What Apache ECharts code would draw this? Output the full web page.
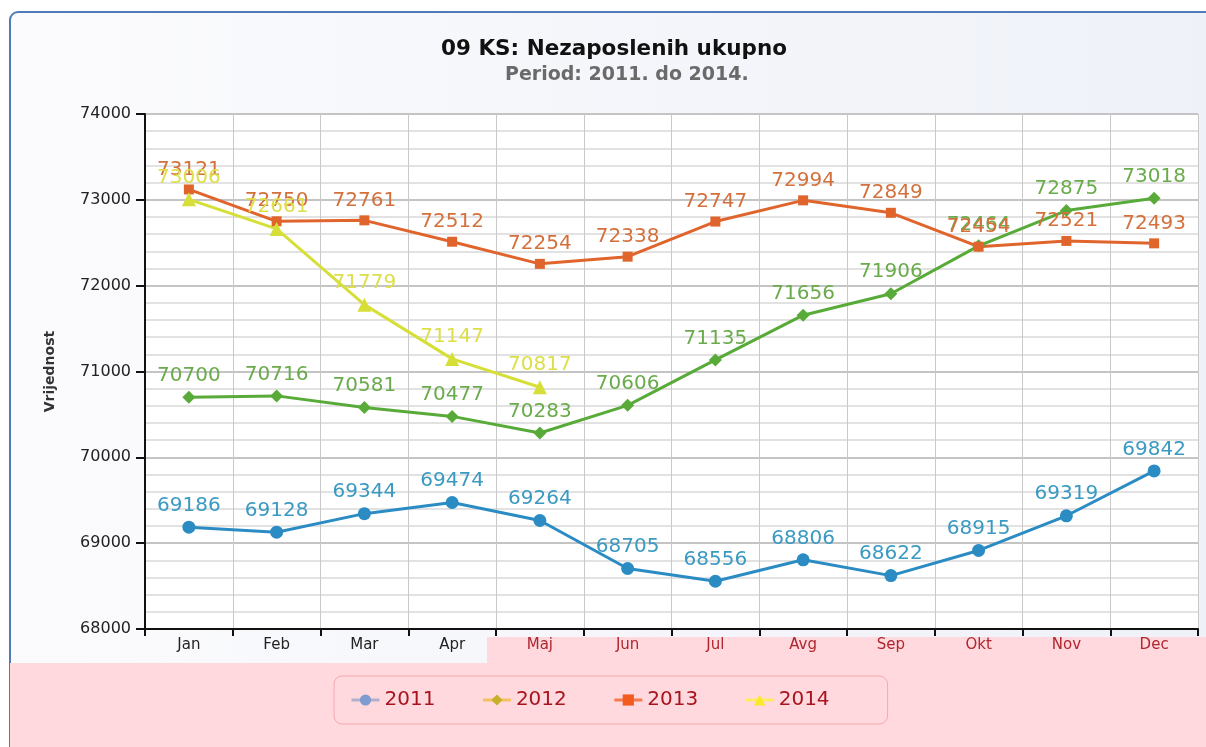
<!DOCTYPE html>
<html>
<head>
<meta charset="utf-8">
<script src="https://cdn.jsdelivr.net/npm/echarts@6/dist/echarts.min.js"></script>
<style>
  html, body { margin: 0; padding: 0; background: #fff; }
  #main { width: 1206px; height: 747px; }
</style>
</head>
<body>
<div id="main"></div>
<script type="text/javascript">
  // 09 KS: Nezaposlenih ukupno
  var months = ['Jan', 'Feb', 'Mar', 'Apr', 'Maj', 'Jun', 'Jul', 'Avg', 'Sep', 'Okt', 'Nov', 'Dec'];
  var years = ['2011', '2012', '2013', '2014'];
  var data2011 = [69186, 69128, 69344, 69474, 69264, 68705, 68556, 68806, 68622, 68915, 69319, 69842];
  var data2012 = [70700, 70716, 70581, 70477, 70283, 70606, 71135, 71656, 71906, 72464, 72875, 73018];
  var data2013 = [73121, 72750, 72761, 72512, 72254, 72338, 72747, 72994, 72849, 72454, 72521, 72493];
  var data2014 = [73006, 72661, 71779, 71147, 70817];

  var myChart = echarts.init(document.getElementById('main'));

  var font = 'DejaVu Sans';

  function lineSeries(name, data, color, labelColor, symbol, size) {
    return {
      name: name,
      type: 'line',
      data: data,
      symbol: symbol,
      symbolSize: size,
      lineStyle: { color: color, width: 3 },
      itemStyle: { color: color },
      label: {
        show: true,
        position: 'top',
        distance: 5,
        color: labelColor,
        fontFamily: font,
        fontSize: 20
      },
      z: 3
    };
  }

  var option = {
    animation: false,
    backgroundColor: '#fff',
    graphic: [
      {
        type: 'rect',
        z: -10,
        shape: { x: 10, y: 12, width: 1220, height: 760, r: 8 },
        style: {
          fill: new echarts.graphic.LinearGradient(0, 0, 1, 0, [
            { offset: 0, color: '#fbfbfd' },
            { offset: 1, color: '#eef1f8' }
          ]),
          stroke: '#4f7cb8',
          lineWidth: 2
        }
      },
      {
        type: 'rect',
        z: -9,
        shape: { x: 10, y: 663, width: 1200, height: 90 },
        style: { fill: '#ffd9de' }
      },
      {
        type: 'rect',
        z: -9,
        shape: { x: 487, y: 637, width: 720, height: 27 },
        style: { fill: '#ffd9de' }
      }
    ],
    title: [
      {
        text: '09 KS: Nezaposlenih ukupno',
        left: 436,
        top: 33,
        textStyle: { fontFamily: font, fontSize: 21.5, fontWeight: 'bold', color: '#111' }
      },
      {
        text: 'Period: 2011. do 2014.',
        left: 500,
        top: 61,
        textStyle: { fontFamily: font, fontSize: 19, fontWeight: 'bold', color: '#6a6a6a' }
      }
    ],
    legend: {
      data: [
        { name: '2011', itemStyle: { color: '#7f9bd2' }, lineStyle: { color: '#b0b0c8', width: 3 } },
        { name: '2012', itemStyle: { color: '#c6b02c' }, lineStyle: { color: '#f4c060', width: 3 } },
        { name: '2013', itemStyle: { color: '#f25a1e' }, lineStyle: { color: '#f47a50', width: 3 } },
        { name: '2014', itemStyle: { color: '#fae82a' }, lineStyle: { color: '#fcec60', width: 3 } }
      ],
      left: 334,
      top: 676,
      padding: [14, 58, 14, 16],
      itemGap: 46,
      itemWidth: 28,
      itemHeight: 14,
      borderColor: '#f6a8b0',
      borderWidth: 1,
      borderRadius: 8,
      textStyle: { color: '#a8141e', fontFamily: font, fontSize: 20 }
    },
    grid: {
      left: 145,
      right: 8,
      top: 114,
      bottom: 118,
      show: true,
      backgroundColor: '#fff',
      borderWidth: 0
    },
    xAxis: {
      type: 'category',
      data: months,
      boundaryGap: true,
      axisLine: { lineStyle: { color: '#111', width: 2 } },
      axisTick: { show: true, length: 7, lineStyle: { color: '#111', width: 2 } },
      axisLabel: {
        fontFamily: font,
        fontSize: 15,
        margin: 9,
        color: function (value, index) {
          return index < 4 ? '#222' : '#b0252e';
        }
      },
      splitLine: { show: true, lineStyle: { color: '#c9c9c9', width: 1 } }
    },
    yAxis: {
      type: 'value',
      min: 68000,
      max: 74000,
      interval: 1000,
      name: 'Vrijednost',
      nameLocation: 'middle',
      nameGap: 88,
      nameTextStyle: { fontFamily: font, fontSize: 14, fontWeight: 'bold', color: '#333' },
      axisLine: { show: true, lineStyle: { color: '#111', width: 2 } },
      axisTick: { show: true, length: 9, lineStyle: { color: '#111', width: 2 } },
      axisLabel: {
        fontFamily: font,
        fontSize: 16,
        color: '#222',
        margin: 14,
        formatter: function (v) { return String(v); }
      },
      splitLine: { show: true, lineStyle: { color: '#c4c4c4', width: 2 } },
      minorTick: { show: false, splitNumber: 5 },
      minorSplitLine: { show: true, lineStyle: { color: '#e2e2e2', width: 2 } }
    },
    series: [
      lineSeries('2011', data2011, '#2b8cc4', '#3a9ac2', 'circle', 13),
      lineSeries('2012', data2012, '#58ab38', '#6aab4c', 'diamond', 13),
      lineSeries('2013', data2013, '#e0652c', '#d4703c', 'rect', 10),
      lineSeries('2014', data2014, '#d6df38', '#dcdf48', 'triangle', 14)
    ]
  };

  myChart.setOption(option);

  window.addEventListener('resize', myChart.resize);
</script>
</body>
</html>
